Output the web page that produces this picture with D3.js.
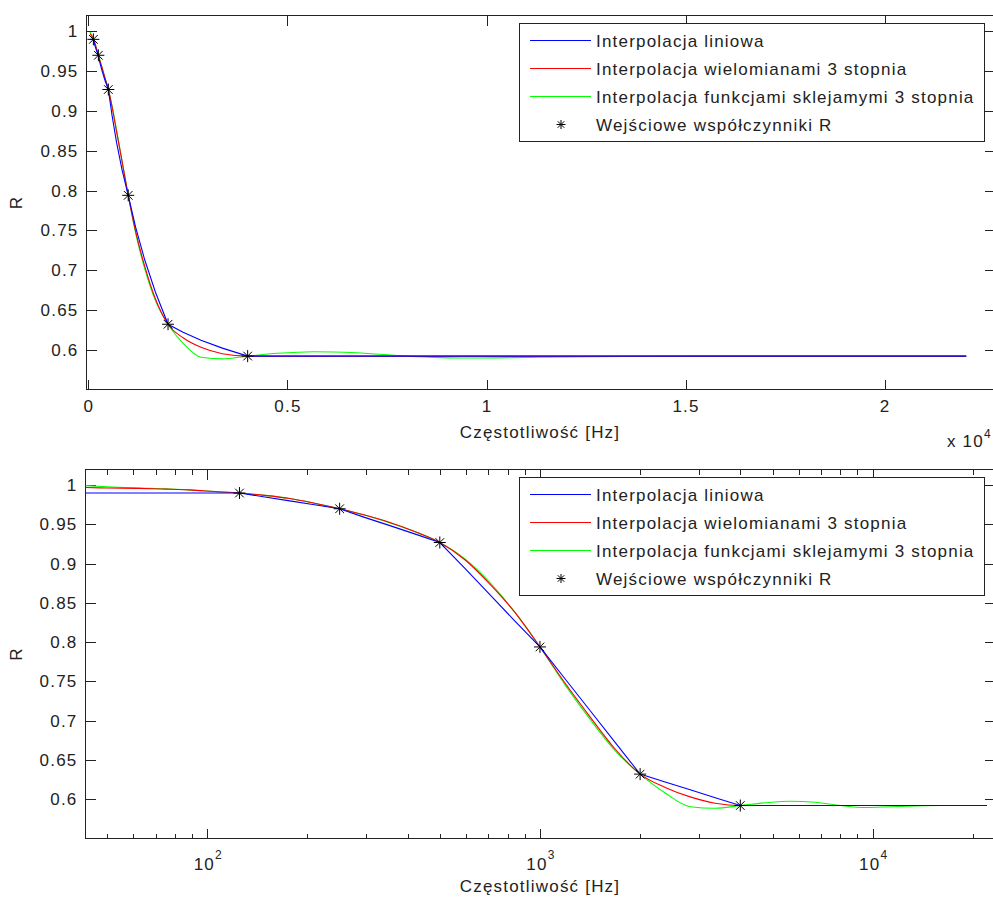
<!DOCTYPE html>
<html lang="pl">
<head>
<meta charset="UTF-8">
<title>Współczynniki R</title>
<style>
    body, html { margin: 0; padding: 0; background: #fff; }
    text { font-family: "Liberation Sans", Arial, sans-serif; font-size: 17px; fill: #222; letter-spacing: 1.2px; }
    .sup { font-size: 12px; }
</style>
<script src="https://d3js.org/d3.v7.min.js"></script>
</head>
<body>
<div id="chart"></div>
<script>
// input coefficients (octave bands)
const bandFreqs = [125, 250, 500, 1000, 2000, 4000];
const bandR = [0.990, 0.970, 0.927, 0.794, 0.632, 0.592];

// curves at these frequencies [Hz]
const curveFreqs = [43.07, 50, 62.5, 75, 88, 105, 125, 149, 177, 210, 250, 297, 354, 420, 500,
    595, 707, 841, 1000, 1189, 1414, 1682, 2000, 2378, 2828, 3364, 4000,
    4757, 5657, 6727, 8000, 9514, 11314, 13454, 16000, 19027, 22050];
const linearR = [0.990, 0.990, 0.990, 0.990, 0.990, 0.990, 0.990, 0.985, 0.980, 0.975, 0.970, 0.959, 0.9485, 0.938, 0.927,
    0.894, 0.8605, 0.827, 0.794, 0.7535, 0.713, 0.6725, 0.632, 0.622, 0.612, 0.602, 0.592,
    0.592, 0.592, 0.592, 0.592, 0.592, 0.592, 0.592, 0.592, 0.592, 0.592];
const cubicR = [0.997, 0.9965, 0.996, 0.995, 0.994, 0.992, 0.990, 0.987, 0.983, 0.977, 0.970, 0.962, 0.9525, 0.941, 0.927,
    0.905, 0.874, 0.838, 0.794, 0.748, 0.705, 0.664, 0.632, 0.615, 0.603, 0.595, 0.592,
    0.592, 0.592, 0.592, 0.592, 0.592, 0.592, 0.592, 0.592, 0.592, 0.592];
const splineR = [0.9995, 0.998, 0.9965, 0.9955, 0.994, 0.992, 0.990, 0.987, 0.983, 0.977, 0.970, 0.962, 0.952, 0.941, 0.927,
    0.906, 0.876, 0.838, 0.794, 0.746, 0.702, 0.662, 0.632, 0.608, 0.5905, 0.5885, 0.592,
    0.5955, 0.5975, 0.5962, 0.592, 0.5895, 0.5905, 0.5915, 0.592, 0.592, 0.592];

const seriesNames = ['Interpolacja liniowa', 'Interpolacja wielomianami 3 stopnia',
    'Interpolacja funkcjami sklejamymi 3 stopnia', 'Wejściowe współczynniki R'];
const seriesColors = ['#0000ff', '#ff0000', '#00ff00', '#000000'];

const yTicks = [0.6, 0.65, 0.7, 0.75, 0.8, 0.85, 0.9, 0.95, 1];
const linTicks = [0, 5000, 10000, 15000, 20000];
const logMajorTicks = [100, 1000, 10000];
const logMinorTicks = [50, 60, 70, 80, 90, 200, 300, 400, 500, 600, 700, 800, 900,
    2000, 3000, 4000, 5000, 6000, 7000, 8000, 9000, 20000];

const xLabel = 'Częstotliwość [Hz]';

const svg = d3.select('#chart').append('svg')
    .attr('width', 993).attr('height', 899);
svg.append('rect').attr('width', 993).attr('height', 899).attr('fill', '#fff');

function starPath(x, y, r) {
    let d = r * 0.72;
    return `M${x - r},${y}h${2 * r}M${x},${y - r}v${2 * r}` +
        `M${x - d},${y - d}l${2 * d},${2 * d}M${x - d},${y + d}l${2 * d},${-2 * d}`;
}

function drawPanel(box, x, isLog, clipId) {
    let g = svg.append('g');
    let y = d3.scaleLinear().domain([0.55, 1.02]).range([box.bottom, box.top]);

    g.append('clipPath').attr('id', clipId)
        .append('rect').attr('x', box.left).attr('y', box.top)
        .attr('width', box.right - box.left).attr('height', box.bottom - box.top);

    // ticks (inward) on all four sides
    let axes = g.append('g').style('color', '#222').attr('shape-rendering', 'crispEdges');
    axes.append('g').attr('transform', `translate(${box.left},0)`)
        .call(d3.axisLeft(y).tickValues(yTicks).tickSizeInner(-10).tickSizeOuter(0).tickPadding(8)
            .tickFormat(d => String(+d.toFixed(2))));
    axes.append('g').attr('transform', `translate(${box.right},0)`)
        .call(d3.axisRight(y).tickValues(yTicks).tickSizeInner(-10).tickSizeOuter(0).tickFormat(''));

    if (!isLog) {
        axes.append('g').attr('transform', `translate(0,${box.bottom})`)
            .call(d3.axisBottom(x).tickValues(linTicks).tickSizeInner(-10).tickSizeOuter(0)
                .tickPadding(10).tickFormat(d => d / 1e4));
        axes.append('g').attr('transform', `translate(0,${box.top})`)
            .call(d3.axisTop(x).tickValues(linTicks).tickSizeInner(-10).tickSizeOuter(0).tickFormat(''));
    } else {
        [[logMajorTicks, -10], [logMinorTicks, -5]].forEach(([tv, s]) => {
            axes.append('g').attr('transform', `translate(0,${box.bottom})`)
                .call(d3.axisBottom(x).tickValues(tv).tickSizeInner(s).tickSizeOuter(0).tickFormat(''));
            axes.append('g').attr('transform', `translate(0,${box.top})`)
                .call(d3.axisTop(x).tickValues(tv).tickSizeInner(s).tickSizeOuter(0).tickFormat(''));
        });
        let lab = axes.append('g').selectAll('text').data(logMajorTicks).enter()
            .append('text').attr('x', d => x(d) + 1).attr('y', box.bottom + 31)
            .attr('text-anchor', 'middle');
        lab.append('tspan').text('10');
        lab.append('tspan').attr('class', 'sup').attr('dy', -11).text(d => Math.round(Math.log10(d)));
    }
    axes.selectAll('.domain').remove();

    axes.append('rect').attr('x', box.left).attr('y', box.top)
        .attr('width', box.right - box.left).attr('height', box.bottom - box.top)
        .attr('fill', 'none').attr('stroke', '#222');

    // curves, drawn green, red, blue, then markers
    let plot = g.append('g').attr('clip-path', `url(#${clipId})`);
    let line = (vals, curve) => d3.line().curve(curve)
        .x((d, i) => x(curveFreqs[i])).y(d => y(d))(vals);
    plot.append('path').attr('d', line(splineR, d3.curveMonotoneX))
        .attr('fill', 'none').attr('stroke', seriesColors[2]).attr('stroke-width', 1.1);
    plot.append('path').attr('d', line(cubicR, d3.curveMonotoneX))
        .attr('fill', 'none').attr('stroke', seriesColors[1]).attr('stroke-width', 1.1);
    plot.append('path').attr('d', line(linearR, d3.curveLinear))
        .attr('fill', 'none').attr('stroke', seriesColors[0]).attr('stroke-width', 1.1);
    plot.selectAll('.star').data(bandR).enter().append('path')
        .attr('d', (d, i) => starPath(x(bandFreqs[i]), y(d), 6))
        .attr('stroke', '#000').attr('stroke-width', 1);

    // legend
    let lg = g.append('g');
    let ly = box.top + 8;
    lg.append('rect').attr('x', 519.5).attr('y', ly).attr('width', 465).attr('height', 118)
        .attr('fill', '#fff').attr('stroke', '#222').attr('shape-rendering', 'crispEdges');
    seriesNames.forEach((name, i) => {
        let ry = ly + 17 + i * 28;
        if (i < 3) {
            lg.append('line').attr('x1', 530).attr('x2', 591).attr('y1', ry).attr('y2', ry)
                .attr('stroke', seriesColors[i]).attr('stroke-width', 1.1);
        } else {
            lg.append('path').attr('d', starPath(561, ry, 4.5)).attr('stroke', '#000');
        }
        lg.append('text').attr('x', 596).attr('y', ry + 6).text(name);
    });

    // y label
    g.append('text').attr('transform', `translate(22,${(box.top + box.bottom) / 2}) rotate(-90)`)
        .attr('text-anchor', 'middle').text('R');
    return g;
}

const topBox = {left: 86.5, right: 994.5, top: 15.5, bottom: 389.5};
const botBox = {left: 85.5, right: 994.5, top: 469.5, bottom: 838.5};

const xTop = d3.scaleLinear().domain([-48, 22760]).range([topBox.left, topBox.right]);
const xBot = d3.scaleLog().domain([43.07, 23230]).range([botBox.left, botBox.right]);

const gTop = drawPanel(topBox, xTop, false, 'clipTop');
gTop.append('text').attr('x', 540).attr('y', 438).attr('text-anchor', 'middle').text(xLabel);
let mult = gTop.append('text').attr('x', 947).attr('y', 447);
mult.append('tspan').text('x 10');
mult.append('tspan').attr('class', 'sup').attr('dy', -9).text('4');

const gBot = drawPanel(botBox, xBot, true, 'clipBot');
gBot.append('text').attr('x', 540).attr('y', 892).attr('text-anchor', 'middle').text(xLabel);
</script>
</body>
</html>
